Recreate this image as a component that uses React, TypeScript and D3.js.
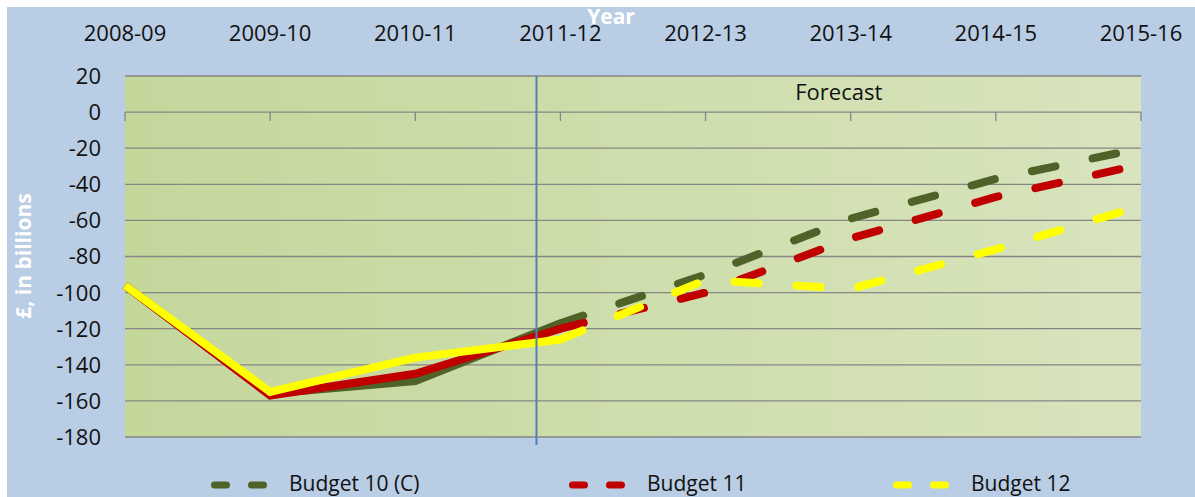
import React from "react";
import * as d3 from "d3";

const categories = ["2008-09", "2009-10", "2010-11", "2011-12", "2012-13", "2013-14", "2014-15", "2015-16"];
const budget10 = [-96, -156, -149, -117, -90, -59, -37, -20];
const budget11 = [-96, -157, -145, -120, -100, -70, -47, -29];
const budget12 = [-96, -155, -136, -126, -93, -98, -76, -52];
const seriesNames = ["Budget 10 (C)", "Budget 11", "Budget 12"];
const seriesColors = ["#4F6228", "#C00000", "#FFFF00"];
const yTicks = [20, 0, -20, -40, -60, -80, -100, -120, -140, -160, -180];
const forecastIndex = 3; // dashes start at 2011-12
const forecastBoundary = 2.835; // vertical marker, in category units
const forecastLabel = "Forecast";
const yTitle = "£, in billions";
const xTitle = "Year";

const W = 1195;
const H = 497;
const FONT = "'Open Sans', 'Noto Sans', sans-serif";

export default function App() {
  const left = 125, right = 1141, top = 76, bottom = 437;
  const x = d3.scalePoint<string>().domain(categories).range([left, right]).padding(0);
  const xi = d3.scaleLinear().domain([0, categories.length - 1]).range([left, right]);
  const y = d3.scaleLinear().domain([-180, 20]).range([bottom, top]);
  const series = [budget10, budget11, budget12];
  const line = d3.line<[number, number]>().x((d) => xi(d[0])).y((d) => y(d[1]));
  const bx = xi(forecastBoundary);
  const legendX = [211, 569, 893];

  return (
    <>
      <style>{"html,body{margin:0;padding:0;overflow:hidden;background:#fff}"}</style>
      <svg width={W} height={H} style={{ display: "block" }}>
        <defs>
          <linearGradient id="plotBg" x1="0" x2="1" y1="0" y2="0">
            <stop offset="0" stopColor="#C4D79B" />
            <stop offset="1" stopColor="#D8E4BD" />
          </linearGradient>
        </defs>
        <rect x={7} y={7} width={W - 7} height={H - 7} fill="#B9CDE5" />
        <rect x={left} y={top} width={right - left} height={bottom - top} fill="url(#plotBg)" />
        {yTicks.map((t) => (
          <line key={"g" + t} x1={left} x2={right} y1={y(t)} y2={y(t)} stroke="#868686" strokeWidth={1.3} />
        ))}
        {categories.map((c) => (
          <line key={"t" + c} x1={x(c)} x2={x(c)} y1={y(0)} y2={y(0) + 9} stroke="#868686" strokeWidth={1.3} />
        ))}
        {yTicks.map((t) => (
          <text key={"l" + t} x={101} y={y(t)} dy="0.36em" textAnchor="end" fontFamily={FONT} fontSize={22} fill="#111">
            {t}
          </text>
        ))}
        {categories.map((c) => (
          <text key={"c" + c} x={x(c)} y={41} textAnchor="middle" fontFamily={FONT} fontSize={22} fill="#111">
            {c}
          </text>
        ))}
        <text x={611} y={24} textAnchor="middle" fontFamily={FONT} fontWeight="bold" fontSize={21} fill="#fff">
          {xTitle}
        </text>
        <text
          transform={`translate(31,256) rotate(-90)`}
          textAnchor="middle"
          fontFamily={FONT}
          fontWeight="bold"
          fontSize={21}
          fill="#fff"
        >
          {yTitle}
        </text>
        <text x={(bx + right) / 2} y={100} textAnchor="middle" fontFamily={FONT} fontSize={22} fill="#111">
          {forecastLabel}
        </text>
        {series.map((s, k) => {
          const pts = s.map((v, i) => [i, v] as [number, number]);
          return (
            <g key={"s" + k}>
              <path
                d={line(pts.slice(0, forecastIndex + 1)) || ""}
                fill="none"
                stroke={seriesColors[k]}
                strokeWidth={8}
                strokeLinejoin="miter"
              />
              <path
                d={line(pts.slice(forecastIndex)) || ""}
                fill="none"
                stroke={seriesColors[k]}
                strokeWidth={8}
                strokeLinecap="round"
                strokeDasharray="24 38"
              />
            </g>
          );
        })}
        <line x1={bx} x2={bx} y1={top} y2={445} stroke="#4F81BD" strokeWidth={2} />
        {seriesNames.map((n, k) => (
          <g key={"lg" + k} transform={`translate(${legendX[k]},485)`}>
            <line x1={3.5} x2={52.5} y1={0} y2={0} stroke={seriesColors[k]} strokeWidth={7} strokeLinecap="round" strokeDasharray="12 25" />
            <text x={78} y={6} fontFamily={FONT} fontSize={21} fill="#111">
              {n}
            </text>
          </g>
        ))}
      </svg>
    </>
  );
}
